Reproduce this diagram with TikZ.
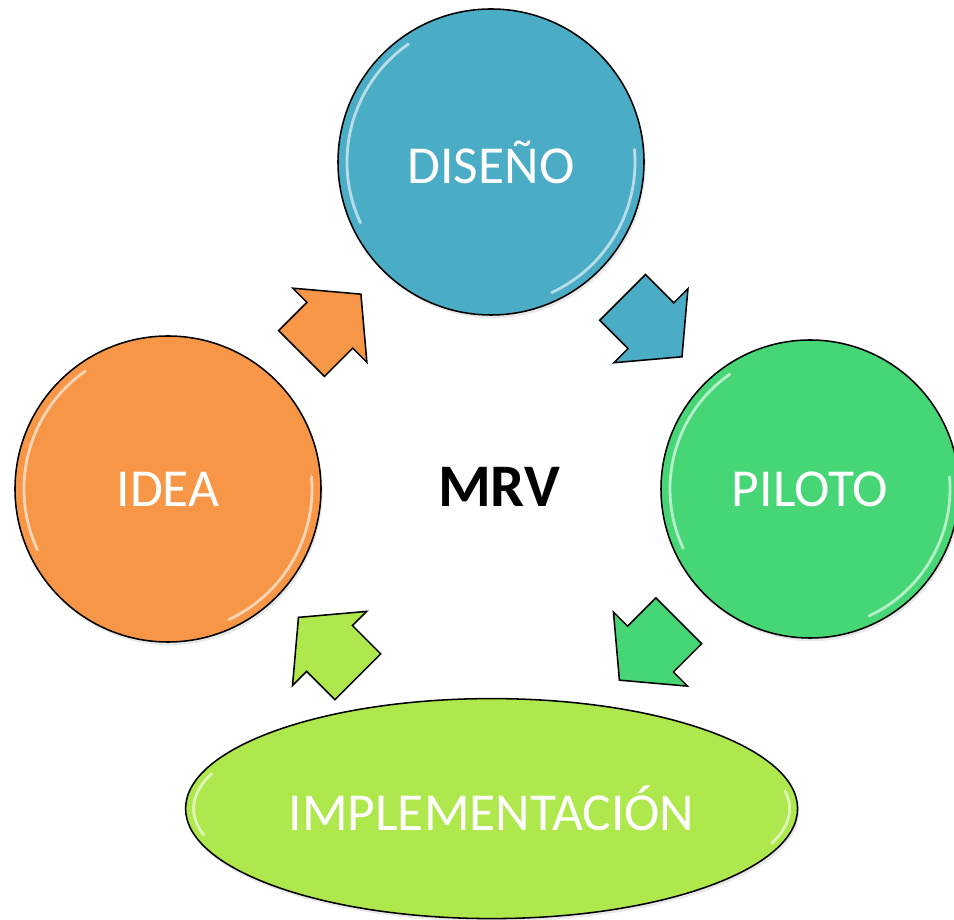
\documentclass[tikz,border=0pt]{standalone}
\usepackage{fontspec}
\setmainfont{Carlito}
\usepackage{tikz}
\usetikzlibrary{calc,%
		shadows,%
		shapes.arrows,%
		shapes.geometric}

\definecolor{naranja}{HTML}{F79646}
\definecolor{azul}{HTML}{4BACC6}
\definecolor{verde}{HTML}{46D676}
\definecolor{lima}{HTML}{AEE84D}

\newcommand{\etiq}{\fontsize{38}{40}\selectfont}
\newcommand{\centro}{\fontsize{43}{45}\selectfont\bfseries}

\begin{document}
\begin{tikzpicture}[font=\etiq,
	circulo/.style={circle, draw=black, line width=1.1pt, minimum size=7.65cm, inner sep=0pt, text=white,
		drop shadow={opacity=.18, shadow xshift=.04cm, shadow yshift=-.08cm}},
	flecha/.style={single arrow, draw=black, line width=1.1pt, minimum height=2.1cm,
		inner xsep=0pt, inner ysep=.79cm, single arrow head extend=.5cm, single arrow tip angle=100},
	brillo/.style={white, opacity=.6, line width=2pt, line cap=round}]

\useasboundingbox (0,0) rectangle (23.85,22.975);

% las cuatro etapas
\node[circulo, fill=naranja] (idea) at (4.2,10.75) {IDEA};
\node[circulo, fill=azul] (diseno) at (12.275,18.925) {DISEÑO};
\node[circulo, fill=verde, minimum size=7.45cm] (piloto) at (20.25,10.75) {PILOTO};
\node[ellipse, draw=black, line width=1.1pt, minimum width=15.3cm, minimum height=5.5cm, inner sep=0pt,
	fill=lima, text=white, drop shadow={opacity=.18, shadow xshift=.04cm, shadow yshift=-.08cm}]
	(impl) at (12.29,2.76) {IMPLEMENTACIÓN};
\node[font=\centro] (mrv) at (12.475,10.8) {MRV};

% reflejos
\foreach \n/\r in {idea/3.6, diseno/3.6, piloto/3.5}{
	\draw[brillo] ([shift={(205:\r)}]\n.center) arc[start angle=205, end angle=125, radius=\r];
	\draw[brillo] ([shift={(-65:\r)}]\n.center) arc[start angle=-65, end angle=5, radius=\r];
}
\draw[brillo] ([shift={(195:7.45 and 2.55)}]impl.center) arc[start angle=195, end angle=160, x radius=7.45, y radius=2.55];
\draw[brillo] ([shift={(-20:7.45 and 2.55)}]impl.center) arc[start angle=-20, end angle=10, x radius=7.45, y radius=2.55];

% flechas del ciclo
\node[flecha, fill=naranja, rotate=45] (f1) at ($(idea)!0.5!(diseno)!0.28cm!(idea)$) {};
\node[flecha, fill=azul, rotate=-45] (f2) at ($(diseno)!0.5!(piloto)!0.28cm!(diseno)$) {};
\node[flecha, fill=verde, rotate=-135] (f3) at ($(piloto)!0.5!(impl)!0.28cm!(piloto)$) {};
\node[flecha, fill=lima, rotate=135] (f4) at ($(impl)!0.5!(idea)!0.28cm!(impl)$) {};

\end{tikzpicture}
\end{document}
